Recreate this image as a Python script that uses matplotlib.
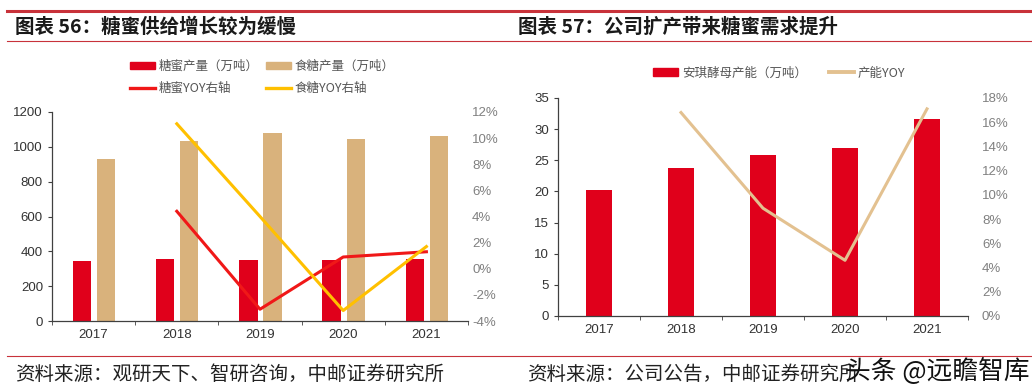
import numpy as np
import matplotlib
matplotlib.use('agg')
import matplotlib.pyplot as plt
from matplotlib.lines import Line2D
from matplotlib.patches import Patch
import matplotlib.ticker as mticker

plt.rcParams['font.family'] = ['Liberation Sans', 'Noto Sans CJK SC', 'DejaVu Sans']

years = ['2017', '2018', '2019', '2020', '2021']

# chart 56
molasses_prod = [344, 358, 348, 350, 354]
sugar_prod = [930, 1033, 1077, 1043, 1060]
molasses_yoy = [None, 4.4, -3.1, 0.9, 1.3]
sugar_yoy = [None, 11.1, 4.0, -3.2, 1.7]

# chart 57
angel_cap = [20.3, 23.8, 25.8, 27.0, 31.6]
cap_yoy = [None, 16.8, 8.9, 4.6, 17.1]

RED = '#E0001B'
TAN = '#D9B27C'
LINE_RED = '#F01818'
YELLOW = '#FFC000'
LIGHT_TAN = '#E3C190'
HDR = '#C8323A'
CJK = ['Noto Sans CJK SC', 'DejaVu Sans']

fig = plt.figure(figsize=(10.32, 3.87), dpi=100)

# header / footer decoration
fig.add_artist(Line2D([0.007, 1.0], [1 - 11/387, 1 - 11/387], color=HDR, lw=2.2))
fig.add_artist(Line2D([0.007, 1.0], [1 - 41/387, 1 - 41/387], color=HDR, lw=0.8))
fig.add_artist(Line2D([0.007, 1.0], [1 - 356/387, 1 - 356/387], color=HDR, lw=0.8))
fig.text(15/1032, 1 - 27/387, '图表 56：糖蜜供给增长较为缓慢', family=CJK, fontsize=14,
         fontweight='bold', va='center', color='#1a1a1a')
fig.text(518/1032, 1 - 27/387, '图表 57：公司扩产带来糖蜜需求提升', family=CJK, fontsize=14,
         fontweight='bold', va='center', color='#1a1a1a')
fig.text(15/1032, 1 - 374/387, '资料来源：观研天下、智研咨询，中邮证券研究所', family=CJK,
         fontsize=14, va='center', color='#222222')
fig.text(527/1032, 1 - 374/387, '资料来源：公司公告，中邮证券研究所', family=CJK,
         fontsize=14, va='center', color='#222222')
fig.text(1030/1032, 1 - 372/387, '头条 @远瞻智库', family=CJK, fontsize=18.5,
         ha='right', va='center', color='#111111')

x = np.arange(len(years))


def style_axes(ax, ax2, pad2):
    for s in ['top', 'right']:
        ax.spines[s].set_visible(False)
    for s in ['left', 'bottom']:
        ax.spines[s].set_color('#404040')
        ax.spines[s].set_linewidth(0.9)
    for s in ax2.spines.values():
        s.set_visible(False)
    ax.set_xlim(-0.5, len(years) - 0.5)
    ax.set_xticks(x)
    ax.set_xticklabels(years)
    ax.set_xticks(np.arange(-0.5, len(years)), minor=True)
    ax.tick_params(axis='x', which='major', length=0, pad=6, labelsize=9.5, colors='#333333')
    ax.tick_params(axis='x', which='minor', length=3, color='#404040')
    ax.tick_params(axis='y', length=3, labelsize=9.5, colors='#333333', color='#404040')
    ax2.tick_params(axis='y', length=0, pad=pad2, labelsize=9.5, labelcolor='#808080')
    ax2.yaxis.set_major_formatter(mticker.FuncFormatter(lambda v, p: '%d%%' % round(v)))
    for lab in ax2.get_yticklabels():
        lab.set_horizontalalignment('left')


def yoy_xy(vals):
    xs = [i for i, v in enumerate(vals) if v is not None]
    ys = [v for v in vals if v is not None]
    return xs, ys


# ---- left chart
ax1 = fig.add_axes([52/1032, 1 - 321/387, 416/1032, 209/387])
ax1b = ax1.twinx()
ax1.bar(x - 0.14, molasses_prod, width=0.22, color=RED, zorder=2)
ax1.bar(x + 0.15, sugar_prod, width=0.22, color=TAN, zorder=2)
ax1.set_ylim(0, 1200)
ax1.set_yticks(np.arange(0, 1201, 200))
xs, ys = yoy_xy(molasses_yoy)
ax1b.plot(xs, ys, color=LINE_RED, lw=2.2, zorder=3)
xs, ys = yoy_xy(sugar_yoy)
ax1b.plot(xs, ys, color=YELLOW, lw=2.2, zorder=3)
ax1b.set_ylim(-4, 12)
ax1b.set_yticks(np.arange(-4, 12.1, 2))
style_axes(ax1, ax1b, 3)

handles1 = [Patch(color=RED), Patch(color=TAN),
            Line2D([], [], color=LINE_RED, lw=2.4), Line2D([], [], color=YELLOW, lw=2.4)]
labels1 = ['糖蜜产量（万吨）', '食糖产量（万吨）', '糖蜜YOY右轴', '食糖YOY右轴']
order = [0, 2, 1, 3]
fig.legend([handles1[i] for i in order], [labels1[i] for i in order], ncol=2,
           loc='center left', bbox_to_anchor=(130/1032, 1 - 77.5/387), frameon=False,
           prop={'family': CJK, 'size': 9}, handlelength=2.0, handleheight=0.55,
           handletextpad=0.3, borderpad=0, borderaxespad=0,
           columnspacing=0.6, labelspacing=0.75, labelcolor='#555555')

# ---- right chart
ax2 = fig.add_axes([558/1032, 1 - 316/387, 410/1032, 218/387])
ax2b = ax2.twinx()
ax2.bar(x, angel_cap, width=0.31, color=RED, zorder=2)
ax2.set_ylim(0, 35)
ax2.set_yticks(np.arange(0, 35.1, 5))
xs, ys = yoy_xy(cap_yoy)
ax2b.plot(xs, ys, color=LIGHT_TAN, lw=2.2, zorder=3)
ax2b.set_ylim(0, 18)
ax2b.set_yticks(np.arange(0, 18.1, 2))
style_axes(ax2, ax2b, 10)

fig.legend([Patch(color=RED), Line2D([], [], color=LIGHT_TAN, lw=2.8)],
           ['安琪酵母产能（万吨）', '产能YOY'], ncol=2,
           loc='center left', bbox_to_anchor=(653/1032, 1 - 73/387), frameon=False,
           prop={'family': CJK, 'size': 9}, handlelength=2.0, handleheight=0.55,
           handletextpad=0.3, borderpad=0, borderaxespad=0,
           columnspacing=1.8, labelcolor='#555555')

fig.savefig('out.png', dpi=100)
